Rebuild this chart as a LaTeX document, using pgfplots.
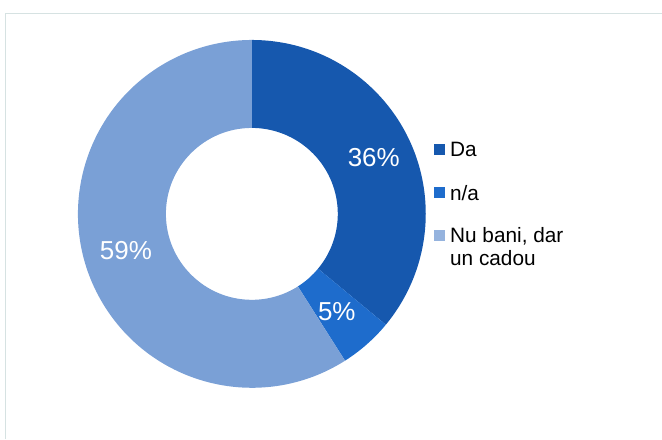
\documentclass[border=0pt]{standalone}
\usepackage{pgfplots}
\pgfplotsset{compat=1.18}
\usepackage{fontspec}
\setmainfont{Liberation Sans}
\definecolor{cDa}{RGB}{22,88,174}
\definecolor{cNA}{RGB}{30,108,204}
\definecolor{cNu}{RGB}{122,160,214}
\definecolor{frame}{RGB}{214,226,226}
% slice: start percent (cumulative), value percent, colour
\newcommand\slice[3]{%
  \fill[#3] (axis cs:252,225) ++({90-3.6*(#1)}:87pt)
    arc[start angle={90-3.6*(#1)},end angle={90-3.6*(#1+#2)},radius=87pt]
    -- ++({90-3.6*(#1+#2)}:-44pt)
    arc[start angle={90-3.6*(#1+#2)},end angle={90-3.6*(#1)},radius=43pt] -- cycle;}
\begin{document}
\begin{tikzpicture}
\begin{axis}[x=0.5pt,y=0.5pt,xmin=0,xmax=662,ymin=0,ymax=439,
  hide axis,clip=false,scale only axis]
\path (axis cs:0,0) rectangle (axis cs:662,439);
\draw[frame,line width=0.4pt] (axis cs:5,0) -- (axis cs:5,426) -- (axis cs:662,426);
% values: Da 36, n/a 5, Nu bani 59
\slice{0}{36}{cDa}
\slice{36}{5}{cNA}
\slice{41}{59}{cNu}
\node[white,font=\fontsize{13}{15}\selectfont] at (axis cs:374,281) {36\%};
\node[white,font=\fontsize{13}{15}\selectfont] at (axis cs:337,127) {5\%};
\node[white,font=\fontsize{13}{15}\selectfont] at (axis cs:126,188) {59\%};
% legend
\fill[cDa] (axis cs:434,284) rectangle (axis cs:445,295);
\fill[cNA] (axis cs:434,241) rectangle (axis cs:445,252);
\fill[cNu!80] (axis cs:434,198) rectangle (axis cs:445,209);
\node[anchor=west,font=\fontsize{10.4}{11}\selectfont,inner sep=0pt] at (axis cs:450,289) {Da};
\node[anchor=west,font=\fontsize{10.4}{11}\selectfont,inner sep=0pt] at (axis cs:450,246) {n/a};
\node[anchor=north west,align=left,font=\fontsize{10.4}{11.5}\selectfont,inner sep=0pt] at (axis cs:450,212) {Nu bani, dar\\un cadou};
\end{axis}
\end{tikzpicture}
\end{document}
